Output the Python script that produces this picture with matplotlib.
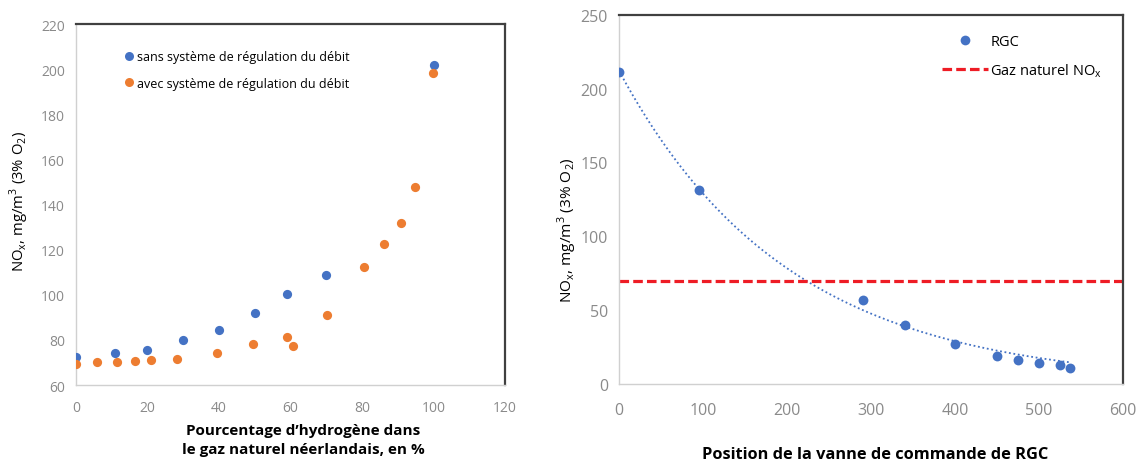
import numpy as np
import matplotlib
matplotlib.use("Agg")
import matplotlib.pyplot as plt
from matplotlib.lines import Line2D

plt.rcParams['font.family'] = ['Open Sans', 'DejaVu Sans']

# Left panel: NOx vs hydrogen share
h2_sans = [0, 11, 20, 30, 40, 50, 59, 70, 100]
nox_sans = [72.3, 74.0, 75.7, 79.9, 84.2, 91.8, 100.3, 108.9, 202.0]
h2_avec = [0, 6, 11.4, 16.4, 20.9, 28.2, 39.5, 49.5, 58.9, 60.7, 70.3, 80.5, 86.1, 90.8, 94.9, 99.9]
nox_avec = [69.3, 70.0, 70.3, 70.6, 71.1, 71.4, 74.2, 78.0, 81.4, 77.4, 91.0, 112.1, 122.3, 131.9, 147.6, 198.1]
left_xticks = [0, 20, 40, 60, 80, 100, 120]
left_yticks = [60, 80, 100, 120, 140, 160, 180, 200, 220]

# Right panel: NOx vs RGC valve position
rgc_pos = [0, 95, 290.5, 340, 400, 450, 474.7, 500, 525, 536.7]
rgc_nox = [211.5, 131.3, 57.0, 40.1, 27.0, 19.1, 16.4, 14.2, 12.6, 11.0]
natgas_nox = 70
right_xticks = [0, 100, 200, 300, 400, 500, 600]
right_yticks = [0, 50, 100, 150, 200, 250]

BLUE = '#4472C4'
ORANGE = '#ED7D31'
RED = '#EE1C25'
TICK_GREY = '#8a8a8a'
ylab = r'NO$_\mathregular{x}$, mg/m$^\mathregular{3}$ (3% O$_\mathregular{2}$)'

fig = plt.figure(figsize=(11.39, 4.64), dpi=100)
ax1 = fig.add_axes([0.0667, 0.168, 0.3767, 0.778])
ax2 = fig.add_axes([0.5435, 0.1703, 0.4425, 0.796])


def style(ax, size, xpad):
    for side in ('left', 'bottom'):
        ax.spines[side].set_color('#d0d0d0')
        ax.spines[side].set_linewidth(1.0)
    for side in ('top', 'right'):
        ax.spines[side].set_color('#404040')
        ax.spines[side].set_linewidth(1.6)
    ax.tick_params(length=0, labelsize=size, labelcolor=TICK_GREY, pad=8)
    ax.tick_params(axis='x', pad=xpad)
    ax.set_facecolor('white')


# Left panel
ax1.scatter(h2_sans, nox_sans, s=44, color=BLUE, zorder=3, linewidths=0)
ax1.scatter(h2_avec, nox_avec, s=44, color=ORANGE, zorder=3, linewidths=0)
ax1.set_xlim(0, 120)
ax1.set_ylim(60, 220)
ax1.set_xticks(left_xticks)
ax1.set_yticks(left_yticks)
style(ax1, 10, 11)
ax1.set_ylabel(ylab, fontsize=10.7)
ax1.yaxis.label.set_va('center')
ax1.yaxis.set_label_coords(-0.133, 0.51, transform=ax1.transAxes)
ax1.set_xlabel("Pourcentage d\u2019hydrog\u00e8ne dans\nle gaz naturel n\u00e9erlandais, en %",
               fontsize=11, fontweight='bold', linespacing=1.5)
ax1.xaxis.set_label_coords(0.53, -0.105, transform=ax1.transAxes)
ax1.xaxis.label.set_va('top')
h1 = Line2D([], [], marker='o', ls='', color=BLUE, markersize=6.5, markeredgewidth=0)
h2 = Line2D([], [], marker='o', ls='', color=ORANGE, markersize=6.5, markeredgewidth=0)
ax1.legend([h1, h2], ['sans syst\u00e8me de r\u00e9gulation du d\u00e9bit',
                      'avec syst\u00e8me de r\u00e9gulation du d\u00e9bit'],
           loc='upper left', bbox_to_anchor=(0.112, 0.928), frameon=False,
           fontsize=9, handletextpad=0.25, handlelength=0.8, labelspacing=1.1,
           borderaxespad=0, borderpad=0)

# Right panel: exponential trendline fitted to the RGC points
coef = np.polyfit(rgc_pos, np.log(rgc_nox), 1, w=rgc_nox)
xx = np.linspace(min(rgc_pos), max(rgc_pos), 200)
ax2.plot(xx, np.exp(np.polyval(coef, xx)), ls=(0, (1, 1.5)), color=BLUE, lw=1.3, zorder=2)
ax2.axhline(natgas_nox, color=RED, ls=(0, (3, 1.3)), lw=2.3, zorder=2)
ax2.scatter(rgc_pos, rgc_nox, s=50, color=BLUE, zorder=3, linewidths=0)
ax2.set_xlim(0, 600)
ax2.set_ylim(0, 250)
ax2.set_xticks(right_xticks)
ax2.set_yticks(right_yticks)
style(ax2, 11.5, 13)
ax2.set_ylabel(ylab, fontsize=11.1)
ax2.yaxis.label.set_va('center')
ax2.yaxis.set_label_coords(-0.103, 0.42, transform=ax2.transAxes)
ax2.set_xlabel('Position de la vanne de commande de RGC', fontsize=11.8,
               fontweight='bold')
ax2.xaxis.set_label_coords(0.508, -0.168, transform=ax2.transAxes)
ax2.xaxis.label.set_va('top')
g1 = Line2D([], [], marker='o', ls='', color=BLUE, markersize=7, markeredgewidth=0)
g2 = Line2D([], [], ls=(0, (3, 1.3)), color=RED, lw=2.3)
ax2.legend([g1, g2], ['RGC', r'Gaz naturel NO$_\mathregular{x}$'],
           loc='upper left', bbox_to_anchor=(0.641, 0.948), frameon=False,
           fontsize=10.5, handlelength=3.15, handletextpad=0.15, labelspacing=0.85,
           borderaxespad=0, borderpad=0)

fig.savefig('out.png', dpi=100, facecolor='white')
